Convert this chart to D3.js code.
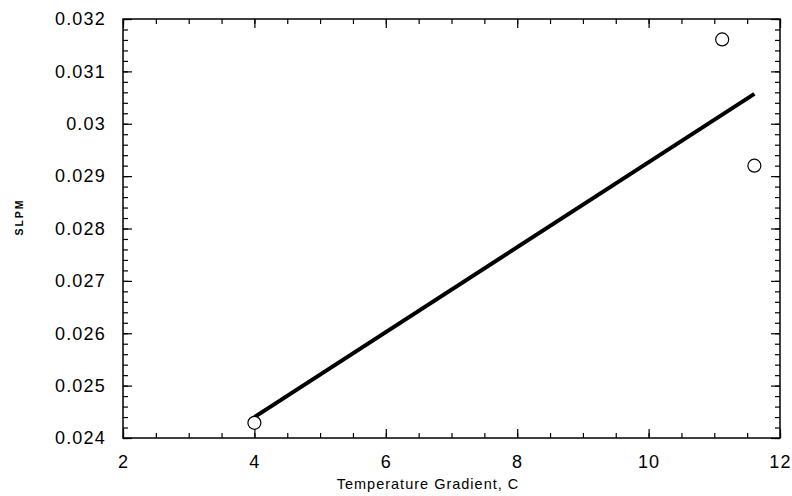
<!DOCTYPE html>
<html>
<head>
<meta charset="utf-8">
<script src="https://cdn.jsdelivr.net/npm/d3@7"></script>
<style>
  body { margin: 0; background: #fff; }
  svg { display: block; }
  .tick text { font-family: "Liberation Sans", Arial, sans-serif; font-size: 18px; letter-spacing: 1.2px; fill: #000; }
  .tick line { stroke: #000; stroke-width: 1.2; }
</style>
</head>
<body>
<div id="chart"></div>
<script>
// measured points
const tempGradient = [4.0, 11.12, 11.61];
const slpm = [0.02429, 0.03161, 0.02920];

// fitted line end points
const fitX = [4.0, 11.61];
const fitY = [0.02440, 0.03057];

const xMajor = [2, 4, 6, 8, 10, 12];
const yMajor = [0.024, 0.025, 0.026, 0.027, 0.028, 0.029, 0.030, 0.031, 0.032];
const yLabels = ["0.024", "0.025", "0.026", "0.027", "0.028", "0.029", "0.03", "0.031", "0.032"];

const W = 792, H = 496;
const margin = { top: 19, right: 12, bottom: 58, left: 123 };
const width = W - margin.left - margin.right;
const height = H - margin.top - margin.bottom;

const x = d3.scaleLinear().domain([2, 12]).range([0, width]);
const y = d3.scaleLinear().domain([0.024, 0.032]).range([height, 0]);

const xMinor = d3.range(2, 12.001, 0.5);
const yMinor = d3.range(0.024, 0.03201, 0.0002);

const svg = d3.select("#chart").append("svg")
    .attr("width", W)
    .attr("height", H)
  .append("g")
    .attr("transform", `translate(${margin.left},${margin.top})`);

function addAxis(axis, transform) {
  const g = svg.append("g").attr("transform", transform).call(axis);
  g.select(".domain").remove();
  return g;
}

// bottom
addAxis(d3.axisBottom(x).tickValues(xMinor).tickSize(-5).tickFormat(""), `translate(0,${height})`);
addAxis(d3.axisBottom(x).tickValues(xMajor).tickSize(-9).tickPadding(17).tickFormat(d3.format("d")), `translate(0,${height})`);
// top
addAxis(d3.axisTop(x).tickValues(xMinor).tickSize(-5).tickFormat(""), "translate(0,0)");
addAxis(d3.axisTop(x).tickValues(xMajor).tickSize(-9).tickFormat(""), "translate(0,0)");
// left
addAxis(d3.axisLeft(y).tickValues(yMinor).tickSize(-5).tickFormat(""), "translate(0,0)");
addAxis(d3.axisLeft(y).tickValues(yMajor).tickSize(-9).tickPadding(17).tickFormat((d, i) => yLabels[i]), "translate(0,0)");
// right
addAxis(d3.axisRight(y).tickValues(yMinor).tickSize(-5).tickFormat(""), `translate(${width},0)`);
addAxis(d3.axisRight(y).tickValues(yMajor).tickSize(-9).tickFormat(""), `translate(${width},0)`);

// frame
svg.append("rect")
    .attr("width", width)
    .attr("height", height)
    .attr("fill", "none")
    .attr("stroke", "#000")
    .attr("stroke-width", 1.5);

// fit line
const fit = fitX.map((d, i) => ({ x: d, y: fitY[i] }));
svg.append("path")
    .datum(fit)
    .attr("fill", "none")
    .attr("stroke", "#000")
    .attr("stroke-width", 4)
    .attr("d", d3.line().x(d => x(d.x)).y(d => y(d.y)));

// points
svg.selectAll("circle.pt")
  .data(tempGradient.map((d, i) => ({ x: d, y: slpm[i] })))
  .join("circle")
    .attr("class", "pt")
    .attr("cx", d => x(d.x))
    .attr("cy", d => y(d.y))
    .attr("r", 6.5)
    .attr("fill", "#fff")
    .attr("stroke", "#000")
    .attr("stroke-width", 1.2);

// axis titles
svg.append("text")
    .attr("x", 428 - margin.left)
    .attr("y", 489 - margin.top)
    .attr("text-anchor", "middle")
    .style("font-family", "'Liberation Sans', Arial, sans-serif")
    .style("font-size", "14.5px")
    .style("letter-spacing", "1px")
    .text("Temperature Gradient, C");

svg.append("text")
    .attr("transform", `translate(${23 - margin.left},${217 - margin.top}) rotate(-90)`)
    .attr("text-anchor", "middle")
    .style("font-family", "'Liberation Sans', Arial, sans-serif")
    .style("font-size", "10.5px")
    .style("font-weight", "bold")
    .style("letter-spacing", "2px")
    .text("SLPM");
</script>
</body>
</html>
